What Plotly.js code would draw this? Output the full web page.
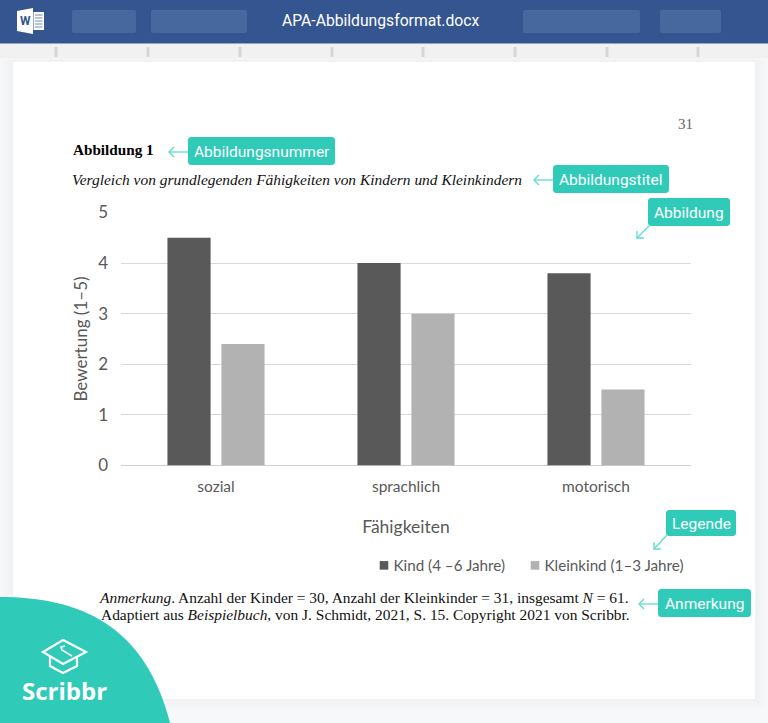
<!DOCTYPE html>
<html><head><meta charset="utf-8">
<script src="https://cdn.plot.ly/plotly-3.0.1.min.js"></script>
<style>html,body{margin:0;padding:0;background:#f7f8fa}#c{width:768px;height:723px}</style></head>
<body><div id="c"></div>
<script>
const categories = ['sozial', 'sprachlich', 'motorisch'];
const kindValues = [4.5, 4.0, 3.8];
const kleinkindValues = [2.4, 3.0, 1.5];
const seriesNames = ['Kind (4 –6 Jahre)', 'Kleinkind (1–3 Jahre)'];
const yTicks = [0, 1, 2, 3, 4, 5];

const W = 768, H = 723;
const px = x => x / W, py = y => 1 - y / H;
const P = (x, y) => px(x) + ',' + py(y);
const TEAL = '#2fcbb8', GREY = '#595959', BLUE = '#34558f';
const shapes = [], annotations = [];

function rect(x0, y0, x1, y1, fill, opacity) {
  shapes.push({type:'rect', xref:'paper', yref:'paper', x0:px(x0), x1:px(x1), y0:py(y0), y1:py(y1),
    fillcolor:fill, opacity:opacity===undefined?1:opacity, line:{width:0}, layer:'below'});
}
function path(d, fill, line, lw) {
  shapes.push({type:'path', xref:'paper', yref:'paper', path:d, fillcolor:fill||'rgba(0,0,0,0)',
    line:{width:lw||0, color:line||'rgba(0,0,0,0)'}, layer:'below'});
}
function poly(pts, fill, line, lw, open) {
  path('M' + pts.map(p => P(p[0], p[1])).join('L') + (open ? '' : 'Z'), fill, line, lw);
}
function rrect(x0, y0, x1, y1, r, fill) {
  const k = r * 0.45;
  path('M'+P(x0+r,y0)+'L'+P(x1-r,y0)+'C'+P(x1-k,y0)+' '+P(x1,y0+k)+' '+P(x1,y0+r)+
       'L'+P(x1,y1-r)+'C'+P(x1,y1-k)+' '+P(x1-k,y1)+' '+P(x1-r,y1)+
       'L'+P(x0+r,y1)+'C'+P(x0+k,y1)+' '+P(x0,y1-k)+' '+P(x0,y1-r)+
       'L'+P(x0,y0+r)+'C'+P(x0,y0+k)+' '+P(x0+k,y0)+' '+P(x0+r,y0)+'Z', fill);
}
function text(x, y, t, size, color, family, anchor) {
  annotations.push({xref:'paper', yref:'paper', x:px(x), y:py(y), text:t, showarrow:false,
    xanchor:anchor||'left', yanchor:'middle', font:{size:size, color:color, family:family},
    borderpad:0, borderwidth:0});
}
const SERIF = '"Liberation Serif", serif', UI = 'Roboto, sans-serif', CHART = 'Lato, sans-serif';

// page, shadow, header, ruler
for (let i = 6; i >= 1; i--) rect(13-i*2, 62-i, 755+i*2, 699+i*2, '#8a93a5', 0.012);
rect(13, 62, 755, 699, '#ffffff');
rect(0, 44, 768, 58, '#f1f1f1');
rect(0, 0, 768, 43.5, BLUE);
[[72,136],[151,247],[523,640],[660,721]].forEach(b => rrect(b[0], 10, b[1], 33, 2, '#46689f'));
[56,148,240,332,423,515,607,698].forEach(x => rect(x-1.5, 47, x+1.5, 57, '#d6d6d6'));

// Word icon
poly([[17,11],[33,8],[33,34],[17,31]], '#ffffff');
rect(33.5, 12, 44, 30, '#ffffff');
[15,18,21,24,27].forEach(y => rect(35, y-0.5, 42.5, y+0.5, '#6f8ab5'));
text(25, 21, '<b>W</b>', 12, BLUE, 'Roboto, sans-serif', 'center');
text(380, 20.5, 'APA-Abbildungsformat.docx', 15.7, '#ffffff', UI, 'center');

// document texts
text(678, 124, '31', 15, '#666666', SERIF);
text(73, 149.5, '<b>Abbildung 1</b>', 15.2, '#000000', SERIF);
text(72, 179.5, '<i>Vergleich von grundlegenden Fähigkeiten von Kindern und Kleinkindern</i>', 15.45, '#111111', SERIF);
text(99, 597.5, '<i>Anmerkung</i>. Anzahl der Kinder = 30, Anzahl der Kleinkinder = 31, insgesamt <i>N</i> = 61.', 15.45, '#111111', SERIF);
text(101, 614.5, 'Adaptiert aus <i>Beispielbuch</i>, von J. Schmidt, 2021, S. 15. Copyright 2021 von Scribbr.', 15.45, '#111111', SERIF);

// callouts
const callouts = [
  ['Abbildungsnummer', 188, 137, 335, 165],
  ['Abbildungstitel', 553, 165, 669, 193],
  ['Abbildung', 648, 198, 730, 226],
  ['Legende', 666, 510, 736, 536],
  ['Anmerkung', 658, 589, 751, 617]
];
callouts.forEach(c => {
  rrect(c[1], c[2], c[3], c[4], 3, TEAL);
  text((c[1]+c[3])/2, (c[2]+c[4])/2+0.5, c[0], 15.5, '#ffffff', UI, 'center');
});
function arrowH(x0, x1, y) {
  poly([[x0,y],[x1,y]], null, '#5fdccb', 1.3, true);
  poly([[x1+5,y-5],[x1,y],[x1+5,y+5]], null, '#5fdccb', 1.3, true);
}
arrowH(188, 169, 152);
arrowH(553, 534, 180);
arrowH(658, 639, 604);
function arrowD(x0, y0, x1, y1) {
  poly([[x0,y0],[x1,y1]], null, '#5fdccb', 1.3, true);
  poly([[x1,y1-7],[x1,y1],[x1+7,y1]], null, '#5fdccb', 1.3, true);
}
arrowD(650, 225, 637, 238);
arrowD(667, 535, 654, 549);

// Scribbr corner
path('M'+P(0,597)+'C'+P(80,597)+' '+P(145,625)+' '+P(170,723)+'L'+P(0,723)+'Z', TEAL);
poly([[63,640],[86,652],[63,664],[43,652]], null, '#ffffff', 2.2);
poly([[50,657],[50,666],[63,673],[77,666],[77,657]], null, '#ffffff', 2.2, true);
poly([[72,656],[62,650],[61,647],[65,646]], null, '#ffffff', 1.6, true);
text(22, 690, '<b>Scribbr</b>', 24, '#ffffff', '"Open Sans", sans-serif');

const traces = [
  {type:'bar', name:seriesNames[0], x:categories, y:kindValues, marker:{color:'#595959'}, hoverinfo:'x+y'},
  {type:'bar', name:seriesNames[1], x:categories, y:kleinkindValues, marker:{color:'#b2b2b2'}, hoverinfo:'x+y'}
];
const layout = {
  width:W, height:H, margin:{l:0,r:0,t:0,b:0}, autosize:false,
  paper_bgcolor:'#f7f8fa', plot_bgcolor:'rgba(0,0,0,0)',
  barmode:'group', bargap:0.432, bargroupgap:0.2,
  font:{family:CHART, color:GREY},
  xaxis:{domain:[px(121), px(691)], type:'category', showgrid:false, showline:false, zeroline:false, ticks:'',
    tickfont:{size:15.5, color:GREY, family:CHART}, ticklen:0, automargin:false, ticklabelstandoff:10,
    title:{text:'Fähigkeiten', standoff:26, font:{size:17.5, color:GREY, family:CHART}}},
  yaxis:{domain:[py(465.5), py(212.5)], range:[0,5], tickvals:yTicks, ticktext:yTicks.map(String), showgrid:true,
    gridcolor:'#d9d9d9', gridwidth:1, zeroline:true, zerolinecolor:'#cfcfcf', zerolinewidth:1, showline:false, ticks:'',
    tickfont:{size:17, color:GREY, family:CHART}, automargin:false, ticklabelstandoff:12,
    title:{text:'Bewertung (1–5)', standoff:6, font:{size:17, color:GREY, family:CHART}}},
  legend:{orientation:'h', x:px(364), xanchor:'left', y:py(565.5), yanchor:'middle', bgcolor:'rgba(0,0,0,0)',
    font:{size:15.2, color:GREY, family:CHART}, traceorder:'normal'},
  shapes:shapes, annotations:annotations
};
Plotly.newPlot('c', traces, layout, {displayModeBar:false, staticPlot:true}).then(() => {
  // tighten the legend entries: smaller swatches, closer labels
  const items = document.querySelectorAll('.legend .traces');
  let firstX = 0;
  items.forEach((g, i) => {
    const m = /translate\(([-\d.]+)[ ,]*([-\d.]*)\)/.exec(g.getAttribute('transform') || '');
    const tx = m ? parseFloat(m[1]) : 0, ty = m && m[2] ? parseFloat(m[2]) : 0;
    if (i === 0) firstX = tx;
    g.setAttribute('transform', 'translate(' + (firstX + i * 151) + ',' + ty + ')');
    const pt = g.querySelector('.legendpoints path');
    if (pt) pt.setAttribute('d', 'M4.3,4.3H-4.3V-4.3H4.3Z');
    const t = g.querySelector('.legendtext');
    if (t) t.setAttribute('x', 29.5);
  });
});
</script></body></html>
